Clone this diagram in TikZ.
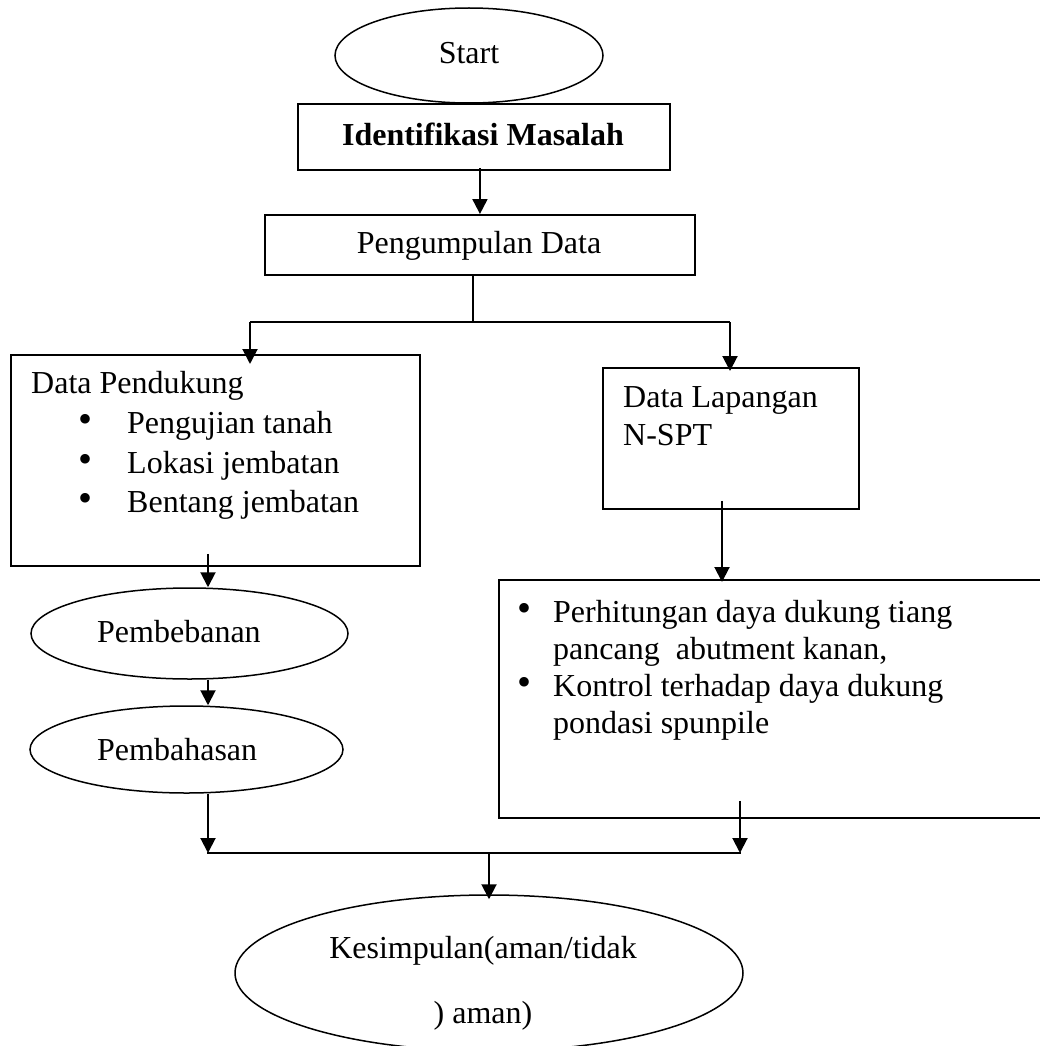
\documentclass[tikz,border=0pt]{standalone}
\usepackage{fontspec}
\setmainfont{Liberation Serif}[Ligatures=NoCommon]
\usetikzlibrary{shapes.geometric,arrows.meta}
\begin{document}
\begin{tikzpicture}[x=1pt,y=-1pt,
  box/.style={draw, line width=1.9pt, rectangle, inner sep=0pt, anchor=north west},
  oval/.style={draw, line width=1.5pt, ellipse, inner sep=0pt},
  txt/.style={inner sep=0pt, anchor=base west, font=\fontsize{32}{37}\selectfont},
  ctxt/.style={txt, anchor=base},
  conn/.style={line width=2pt},
  arr/.style={conn, -{Triangle[length=15pt,width=15pt]}},
  dot/.style={inner sep=0pt, anchor=center, font=\fontsize{40}{40}\selectfont}
]
\useasboundingbox (0,0) rectangle (1040,1046);
\clip (0,0) rectangle (1040,1046);

% shapes
\node[oval, minimum width=268pt, minimum height=95pt] (start) at (469,55.5) {};
\node[box, minimum width=372pt, minimum height=66pt] (idm) at (297,103) {};
\node[box, minimum width=430pt, minimum height=60pt] (pd) at (264,214) {};
\node[box, minimum width=409pt, minimum height=211pt] (dp) at (10,354) {};
\node[box, minimum width=256pt, minimum height=141pt] (dl) at (602,367) {};
\node[box, minimum width=560pt, minimum height=238pt] (rb) at (498,579) {};
\node[oval, minimum width=317pt, minimum height=91pt] (pbb) at (189.5,633.5) {};
\node[oval, minimum width=313pt, minimum height=87pt] (pbh) at (186.5,749.5) {};
\node[oval, minimum width=508pt, minimum height=156pt] (kes) at (489,973) {};

% texts
\node[ctxt] (tstart) at (469,64) {Start};
\node[ctxt, font=\fontsize{32}{37}\selectfont\bfseries] (tidm) at (483,145) {Identifikasi Masalah};
\node[ctxt] (tpd) at (479,253) {Pengumpulan Data};

\node[txt] (tdp) at (31,393) {Data Pendukung};
\node[dot] (b1) at (86,423) {•};
\node[dot] (b2) at (86,463) {•};
\node[dot] (b3) at (86,502) {•};
\node[txt] (tdp1) at (127,433) {Pengujian tanah};
\node[txt] (tdp2) at (127,473) {Lokasi jembatan};
\node[txt] (tdp3) at (127,512) {Bentang jembatan};

\node[txt] (tdl1) at (623,407) {Data Lapangan};
\node[txt] (tdl2) at (623,445) {N-SPT};

\node[dot] (b4) at (524,612) {•};
\node[dot] (b5) at (524,686) {•};
\node[txt] (trb1) at (553,622) {Perhitungan daya dukung tiang};
\node[txt] (trb2) at (553,659) {pancang\ \ abutment kanan,};
\node[txt] (trb3) at (553,696) {Kontrol terhadap daya dukung};
\node[txt] (trb4) at (553,733) {pondasi spunpile};

\node[txt] (tpbb) at (97,642) {Pembebanan};
\node[txt] (tpbh) at (97,760) {Pembahasan};

\node[ctxt] (tkes1) at (483,958) {Kesimpulan(aman/tidak};
\node[ctxt] (tkes2) at (483,1023) {) aman)};

% junction coordinates
\coordinate (j1) at (473,322);
\coordinate (jl) at (250,322);
\coordinate (jr) at (730,322);
\coordinate (xl) at (208,0);
\coordinate (xr) at (722,0);
\coordinate (xb) at (740,0);
\coordinate (jbl) at (207,853);
\coordinate (jbr) at (741,853);
\coordinate (jbm) at (489,853);

% connectors
\draw[arr, shorten <=-3pt] (idm.south -| pd.north) -- (pd.north);
\draw[conn] (pd.south -| j1) -- (j1);
\draw[conn] (jl) -- (jr);
\draw[arr, shorten >=-10pt] (jl) -- (jl |- dp.north);
\draw[arr, shorten >=-4pt] (jr) -- (jr |- dl.north);
\draw[arr, shorten <=-13pt] (dp.south -| xl) -- (pbb.north -| xl);
\draw[arr] (pbb.south -| xl) -- (pbh.north -| xl);
\draw[arr] (pbh.south -| xl) -- (jbl -| xl);
\draw[arr, shorten <=-9pt, shorten >=-3pt] (dl.south -| xr) -- (rb.north -| xr);
\draw[arr, shorten <=-18pt] (rb.south -| xb) -- (jbr -| xb);
\draw[conn] (jbl) -- (jbr);
\draw[arr, shorten >=-5pt] (jbm) -- (kes.north);
\end{tikzpicture}
\end{document}
